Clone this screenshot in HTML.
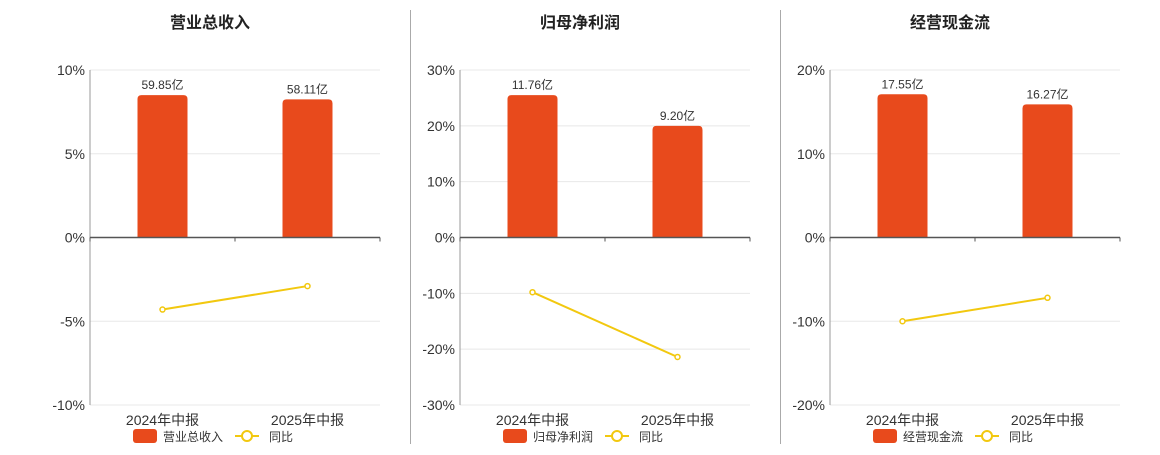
<!DOCTYPE html>
<html><head><meta charset="utf-8"><style>
body{margin:0;background:#fff;font-family:"Liberation Sans","Noto Sans CJK SC",sans-serif;}
svg text{font-family:"Liberation Sans","Noto Sans CJK SC",sans-serif;}
</style></head><body>
<svg id="c" width="1160" height="450"></svg>
<script>
const categories=["2024年中报","2025年中报"];
const titles=["营业总收入","归母净利润","经营现金流"];
const barLabels=[["59.85亿","58.11亿"],["11.76亿","9.20亿"],["17.55亿","16.27亿"]];
const barValues=[[8.5,8.25],[25.5,20.0],[17.1,15.9]];
const yoyValues=[[-4.3,-2.9],[-9.8,-21.4],[-10.0,-7.2]];
const yMax=[10,30,20];
const tickLabels=[["10%","5%","0%","-5%","-10%"],["30%","20%","10%","0%","-10%","-20%","-30%"],["20%","10%","0%","-10%","-20%"]];
const svgRoot=document.getElementById('c');
const NS='http://www.w3.org/2000/svg';
function mk(t,a,p,txt){const e=document.createElementNS(NS,t);for(const k in a)e.setAttribute(k,a[k]);if(txt!==undefined)e.textContent=txt;(p||svgRoot).appendChild(e);return e;}
const plotTop=70,plotBot=405;
for(let p=0;p<3;p++){
  const ox=p*370+90, w=290;
  const g=mk('g',{});
  
  
  const y=v=>plotTop+(yMax[p]-v)/(2*yMax[p])*(plotBot-plotTop);
  const x=i=>ox+w/4+i*w/2;
  const t=mk('text',{x:ox+120,y:28,'text-anchor':'middle','font-size':16,'font-weight':'bold',fill:'#222'},g,titles[p]);
  
  
  const tl=tickLabels[p];
  tl.forEach((lab,i)=>{
    const v=yMax[p]-i*(2*yMax[p])/(tl.length-1);
    const yy=y(v);
    if(v!==0){const gl=mk('line',{x1:ox,x2:ox+w,y1:yy,y2:yy,stroke:'#e8e8e8'},g);
      
      }
    const tx=mk('text',{x:ox-5,y:yy+5,'text-anchor':'end','font-size':14,fill:'#333'},g,lab);
    
    
  });
  const ax=mk('line',{x1:ox,x2:ox,y1:plotTop,y2:plotBot,stroke:'#999'},g);
  
  
  categories.forEach((c,i)=>{
    const bv=barValues[p][i];
    const b=mk('path',{d:`M${x(i)-25},${y(0)} V${y(bv)+4} Q${x(i)-25},${y(bv)} ${x(i)-21},${y(bv)} H${x(i)+21} Q${x(i)+25},${y(bv)} ${x(i)+25},${y(bv)+4} V${y(0)} Z`,fill:'#e84a1c'},g);
    
    
    const bl=mk('text',{x:x(i),y:y(bv)-6,'text-anchor':'middle','font-size':12,fill:'#333'},g,barLabels[p][i]);
    
    
    const cl=mk('text',{x:x(i),y:425,'text-anchor':'middle','font-size':14,fill:'#333'},g,c);
    
    
  });
  const zl=mk('line',{x1:ox,x2:ox+w,y1:y(0),y2:y(0),stroke:'#555','stroke-width':1.5},g);
  
  
  [0,1,2].forEach(k=>{const tk=mk('line',{x1:ox+k*w/2,x2:ox+k*w/2,y1:y(0),y2:y(0)+4,stroke:'#555'},g);
    
    });
  const ln=mk('polyline',{points:yoyValues[p].map((v,i)=>x(i)+','+y(v)).join(' '),fill:'none',stroke:'#f2c80f','stroke-width':2},g);
  
  
  yoyValues[p].forEach((v,i)=>{const pt=mk('circle',{cx:x(i),cy:y(v),r:2.5,fill:'#fff',stroke:'#f2c80f','stroke-width':1.5},g);
    
    });
  const lx=ox+43;
  const lg=mk('g',{},g);
  
  
  const r=mk('rect',{x:lx,y:429,width:24,height:14,rx:3,fill:'#e84a1c'},lg);
  
  
  const lt=mk('text',{x:lx+30,y:441,'font-size':12,fill:'#333'},lg,titles[p]);
  
  
  const lx2=ox+145;
  const ll=mk('line',{x1:lx2,x2:lx2+24,y1:436,y2:436,stroke:'#f2c80f','stroke-width':2},lg);
  
  
  const lc=mk('circle',{cx:lx2+12,cy:436,r:5,fill:'#fff',stroke:'#f2c80f','stroke-width':2},lg);
  
  
  const lt2=mk('text',{x:lx2+34,y:441,'font-size':12,fill:'#333'},lg,'同比');
  
  
}
[410,780].forEach(xx=>{const d=mk('line',{x1:xx+0.5,x2:xx+0.5,y1:10,y2:444,stroke:'#aaa'});
  
  });
</script>
</body></html>
